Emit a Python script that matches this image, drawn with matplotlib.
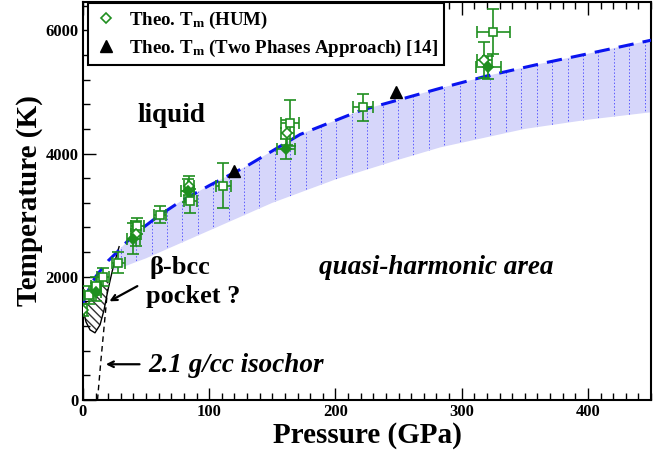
import numpy as np
import matplotlib
matplotlib.use("Agg")
import matplotlib.pyplot as plt
from matplotlib.ticker import MultipleLocator
from matplotlib.patches import Polygon

plt.rcParams['font.family'] = ['Liberation Serif', 'DejaVu Serif']
plt.rcParams['font.weight'] = 'bold'
plt.rcParams['axes.labelweight'] = 'bold'
plt.rcParams['mathtext.fontset'] = 'custom'
plt.rcParams['mathtext.rm'] = 'Liberation Serif:bold'
plt.rcParams['mathtext.it'] = 'Liberation Serif:bold:italic'
plt.rcParams['mathtext.bf'] = 'Liberation Serif:bold'

GREEN = '#1f8f1f'
BLUE = '#0a14f0'

# HUM melting points with error bars: open squares
sq_P = [5, 10, 16, 28, 43, 61, 85, 111, 164, 222, 325]
sq_T = [1700, 1850, 2000, 2230, 2820, 3010, 3230, 3480, 4500, 4750, 5980]
sq_dP = [4, 4, 5, 5, 5, 5, 5, 6, 7, 8, 13]
sq_dT = [150, 150, 150, 170, 130, 140, 200, 370, 370, 220, 360]

# filled diamonds
fd_P = [10, 40, 83, 161, 321]
fd_T = [1750, 2620, 3400, 4070, 5400]
fd_dP = [4, 5, 5, 7, 10]
fd_dT = [150, 250, 180, 160, 190]

# open diamonds (legend entry)
od_P = [0, 42, 84, 162, 318]
od_T = [1460, 2700, 3480, 4340, 5520]
od_dP = [3, 4, 4, 5, 6]
od_dT = [100, 200, 150, 200, 290]

# two phases approach [14]
tp_P = [120, 248]
tp_T = [3720, 5000]

# melting curve (dashed) and lower bound of the quasi-harmonic band
melt_P = [0, 4, 10, 20, 27, 40, 60, 77, 100, 130, 172, 220, 283, 320, 363, 400, 450]
melt_T = [1580, 1770, 2000, 2260, 2400, 2680, 2990, 3220, 3480, 3800, 4310, 4700, 5060, 5260, 5460, 5620, 5840]
low_P = [24, 50, 100, 150, 200, 250, 283, 350, 400, 450]
low_T = [2100, 2300, 2750, 3200, 3580, 3900, 4100, 4400, 4550, 4670]

# beta-bcc pocket boundary
pk_P = [0, 2.4, 5.6, 9.5, 13.5, 16.7, 19.8, 23.8, 28.6]
pk_T = [1463, 1268, 1138, 1090, 1220, 1463, 1790, 2146, 2488]

# 2.1 g/cc isochor
iso_P = [11.5, 14, 17, 19.5]
iso_T = [0, 600, 1250, 1800]

fig = plt.figure(figsize=(6.66, 4.55), dpi=100)
ax = fig.add_axes([0.1246, 0.1209, 0.853, 0.8747])

# quasi-harmonic band
mP = np.array(melt_P, float)
mT = np.array(melt_T, float)
lP = np.array(low_P, float)
lT = np.array(low_T, float)
top_sel = mP >= low_P[0]
band = np.vstack([np.column_stack([mP[top_sel], mT[top_sel]]),
                  np.column_stack([lP[::-1], lT[::-1]])])
poly = Polygon(band, closed=True, facecolor='#d6d6fa', edgecolor='none', zorder=1)
ax.add_patch(poly)
for xv in np.arange(30, 450, 12.2):
    ln, = ax.plot([xv, xv], [0, 6500], color='#5a5aff', lw=0.7, ls=(0, (1.5, 2)), zorder=1.5)
    ln.set_clip_path(poly)

# hatched pocket
pocket = np.vstack([np.column_stack([pk_P[:7], pk_T[:7]]),
                    np.column_stack([[19.8, 10, 4, 0], [2000, 1900, 1700, 1580]])])
ax.add_patch(Polygon(pocket, closed=True, facecolor='none', edgecolor='#333333',
                     hatch='\\\\\\\\', lw=0, zorder=1))
ax.plot(pk_P, pk_T, color='black', lw=1.0, zorder=2)
ax.plot(iso_P, iso_T, color='black', lw=1.0, ls=(0, (4, 3)), zorder=2)

ax.plot(melt_P, melt_T, color=BLUE, lw=2.2, ls=(0, (5, 3)), zorder=3)

ekw = dict(ecolor=GREEN, elinewidth=1.2, capsize=4, capthick=1.2, zorder=4, ls='none')
ax.errorbar(sq_P, sq_T, xerr=sq_dP, yerr=sq_dT, marker='s', ms=6, mfc='white',
            mec=GREEN, mew=1.2, **ekw)
ax.errorbar(od_P, od_T, xerr=od_dP, yerr=od_dT, marker='D', ms=5, mfc='white',
            mec=GREEN, mew=1.2, **ekw)
ax.errorbar(fd_P, fd_T, xerr=fd_dP, yerr=fd_dT, marker='D', ms=5, mfc=GREEN,
            mec=GREEN, mew=1.2, **ekw)
ax.plot(tp_P, tp_T, ls='none', marker='^', ms=8, color='black', zorder=5)

# legend handles
h1, = ax.plot([], [], ls='none', marker='D', ms=5, mfc='white', mec=GREEN, mew=1.2)
h2, = ax.plot([], [], ls='none', marker='^', ms=9, color='black')
leg = ax.legend([h1, h2], [r'Theo. T$_\mathrm{m}$ (HUM)',
                           r'Theo. T$_\mathrm{m}$ (Two Phases Approach) [14]'],
                loc='upper left', bbox_to_anchor=(0.009, 0.997), borderaxespad=0,
                fancybox=False, framealpha=1, edgecolor='black', fontsize=13.6,
                handlelength=1.2, handletextpad=0.6, borderpad=0.35, labelspacing=0.35)
leg.get_frame().set_linewidth(1.5)

# annotations
ax.text(70, 4620, 'liquid', fontsize=19.5, ha='center', va='center')
ax.text(280, 2150, 'quasi-harmonic area', fontsize=19.5, style='italic', ha='center', va='center')
ax.text(53, 2150, 'β-bcc', fontsize=19, ha='left', va='center')
ax.text(50, 1680, 'pocket ?', fontsize=19, ha='left', va='center')
ax.annotate('', xy=(19, 1580), xytext=(45, 1870),
            arrowprops=dict(arrowstyle='->', color='black', lw=1.6))
ax.text(51.6, 560, '2.1 g/cc isochor', fontsize=19.5, style='italic', ha='left', va='center')
ax.annotate('', xy=(15.9, 580), xytext=(47, 580),
            arrowprops=dict(arrowstyle='->', color='black', lw=1.6))

ax.set_xlim(0, 450)
ax.set_ylim(0, 6460)
ax.xaxis.set_major_locator(MultipleLocator(100))
ax.xaxis.set_minor_locator(MultipleLocator(10))
ax.yaxis.set_major_locator(MultipleLocator(2000))
ax.yaxis.set_minor_locator(MultipleLocator(400))
ax.tick_params(which='both', direction='in', top=True, right=False, width=1.0,
               labelsize=12, pad=3)
ax.tick_params(which='major', length=9)
ax.tick_params(which='minor', length=5)
for s in ax.spines.values():
    s.set_linewidth(1.5)
for lab in ax.get_xticklabels() + ax.get_yticklabels():
    lab.set_fontweight('bold')

ax.set_xlabel('Pressure (GPa)', fontsize=21, fontweight='bold', labelpad=1)
ax.set_ylabel('Temperature (K)', fontsize=21, fontweight='bold', labelpad=2)

fig.savefig('out.png', dpi=100)
